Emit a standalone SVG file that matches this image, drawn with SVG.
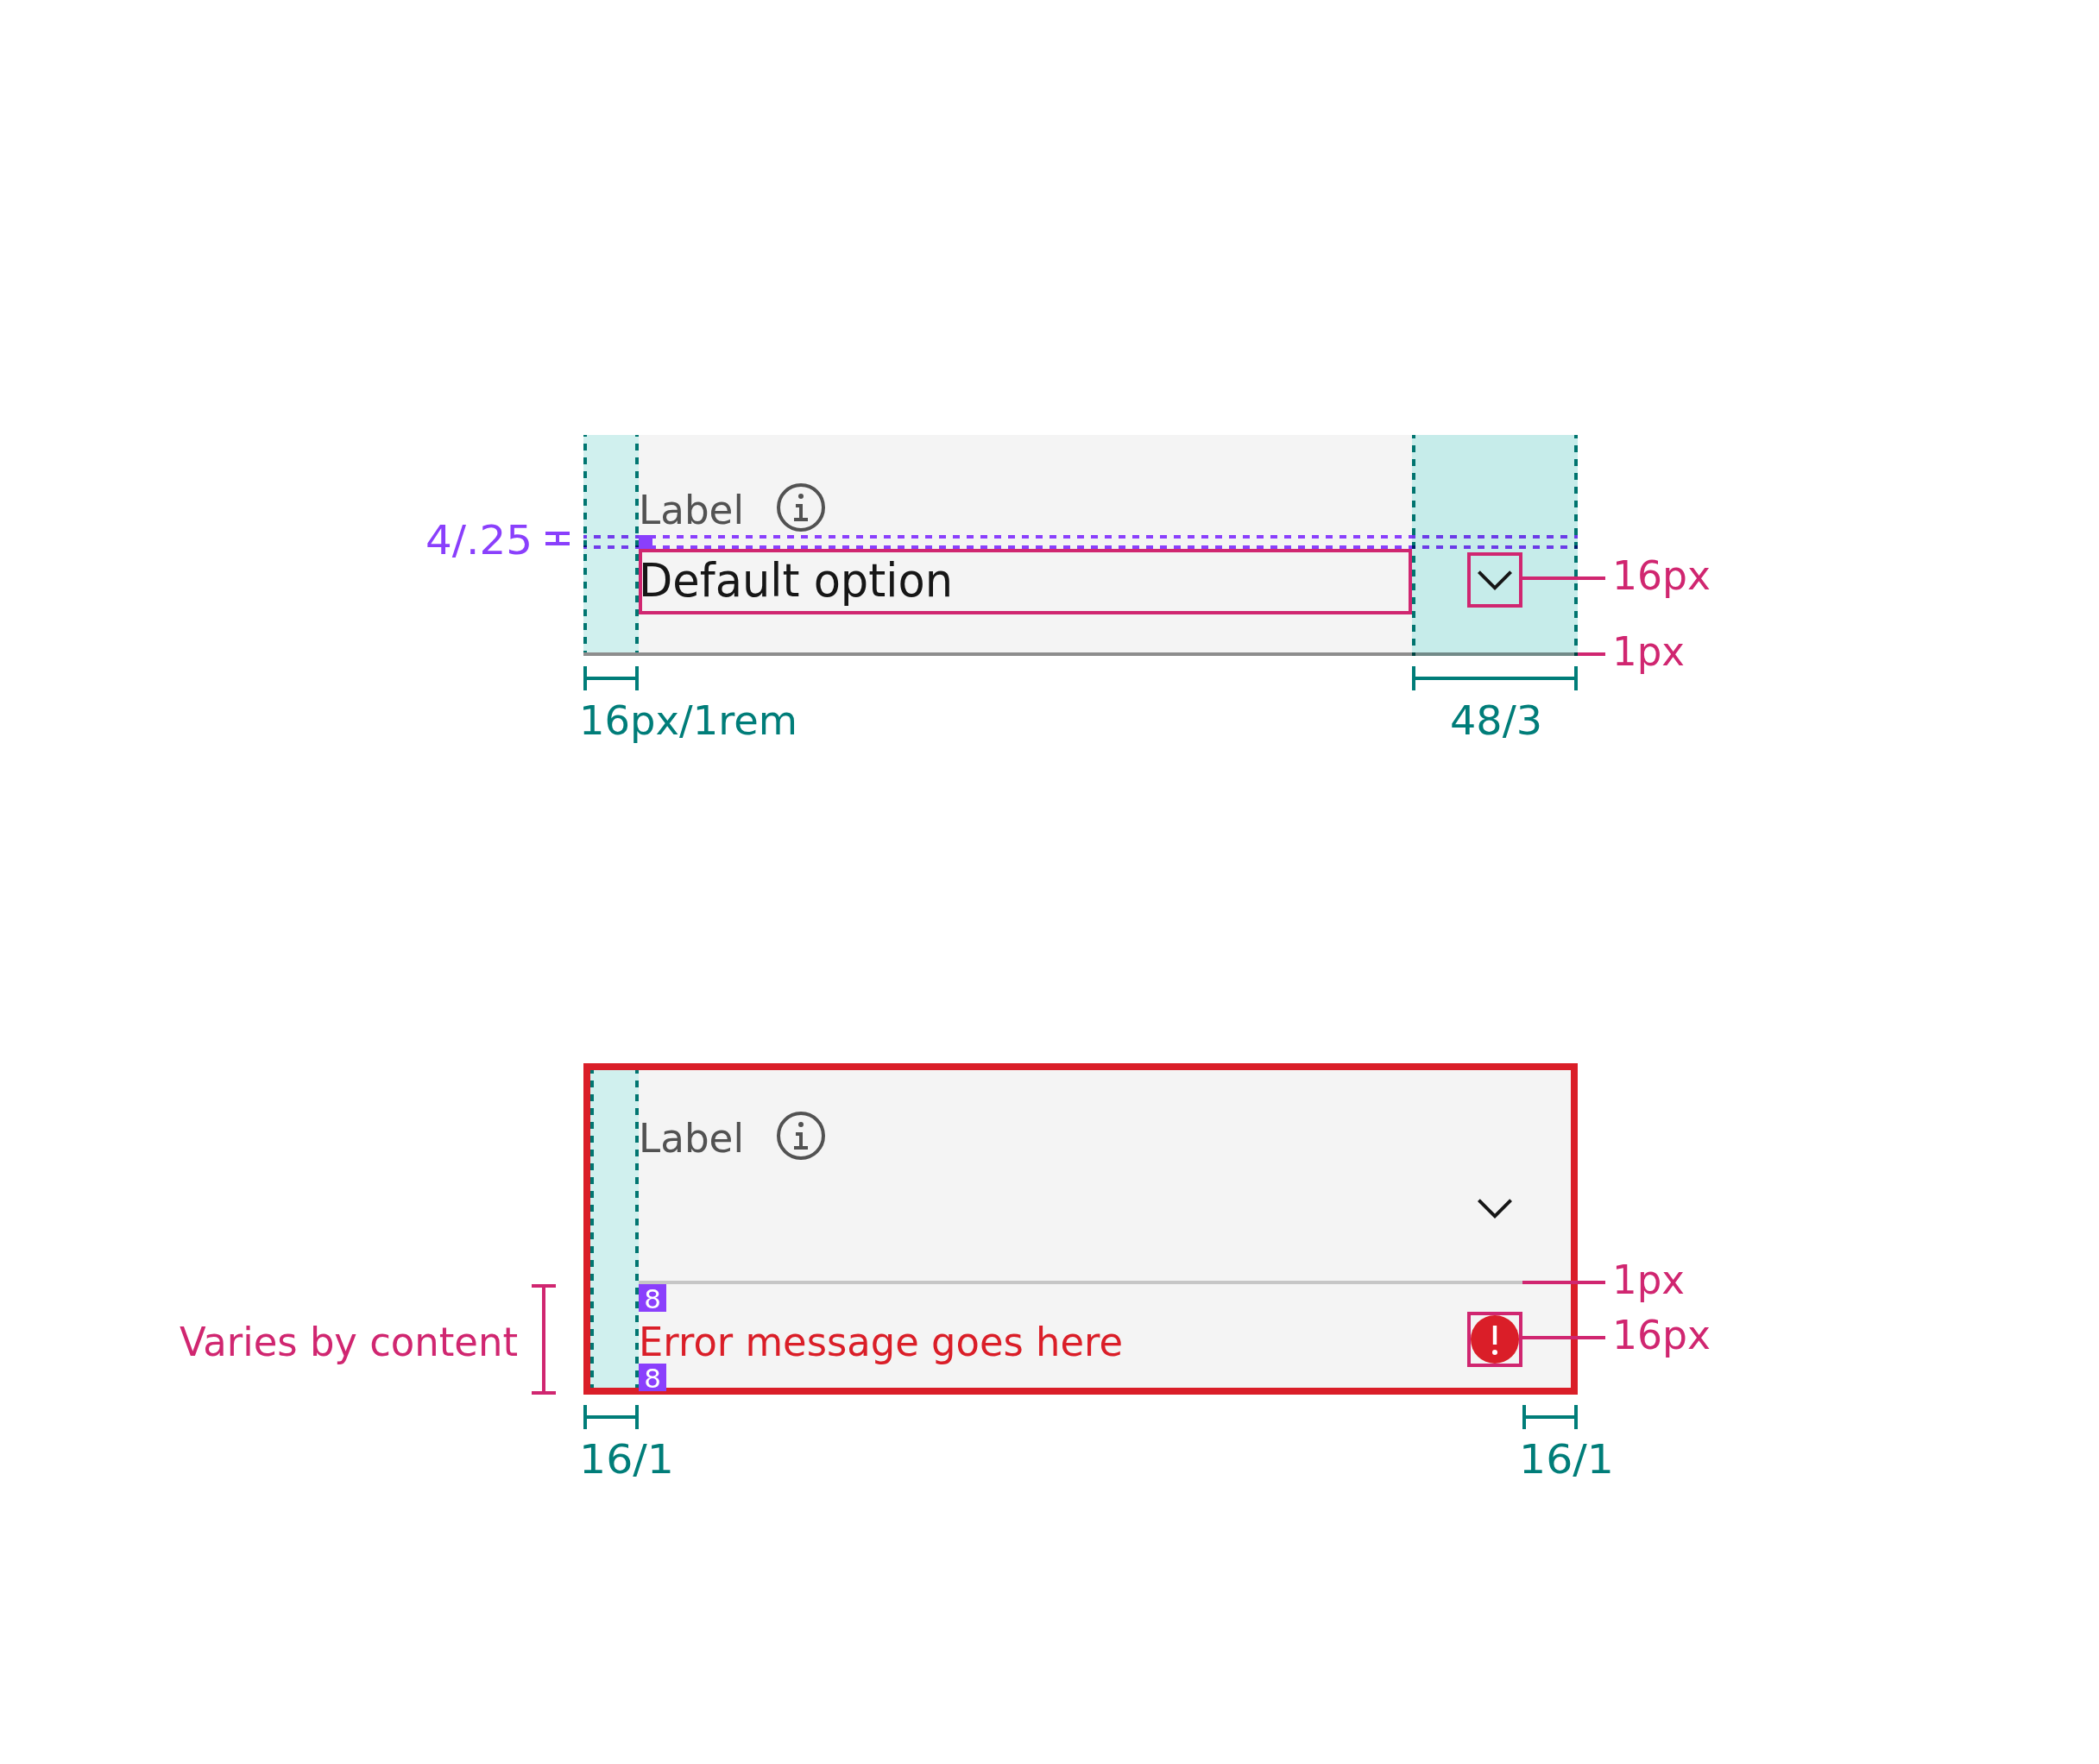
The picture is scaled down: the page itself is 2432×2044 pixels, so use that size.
<svg xmlns="http://www.w3.org/2000/svg" width="2432" height="2044" viewBox="0 0 2432 2044">
<style>
text{font-family:"DejaVu Sans","Noto Sans",sans-serif}
.t48{font-size:47px}
.mag{fill:#d02670}.teal{fill:#007d79}.pur{fill:#8a3ffc}.gry{fill:#525252}
.dv{stroke:#007d79;stroke-width:4;stroke-dasharray:8 8;fill:none;mix-blend-mode:multiply}
.off4{stroke-dashoffset:4}.off6{stroke-dashoffset:6}
.dh{stroke:#8a3ffc;stroke-width:4;stroke-dasharray:8 8;stroke-dashoffset:4;fill:none}
.mult{mix-blend-mode:multiply}
.box{fill:none;stroke:#d02670;stroke-width:4}
.ln{stroke:#d02670;stroke-width:4;fill:none}
.dim{stroke:#007d79;stroke-width:4;fill:none}
.ink{fill:#161616}
</style>
<defs>
<g id="info"><circle cx="32" cy="32" r="26" fill="none" stroke="#525252" stroke-width="4"/><circle cx="32" cy="19" r="3" fill="#525252"/><polygon points="34,44 34,28 26,28 26,32 30,32 30,44 24,44 24,48 40,48 40,44" fill="#525252"/></g>
<polygon id="chev" points="32,44 12,24 14.8,21.2 32,38.4 49.2,21.2 52,24" fill="#161616"/>
</defs>

<g id="default-field">
<rect x="740" y="504" width="896" height="252" fill="#f4f4f4"/>
<rect x="676" y="504" width="64" height="252" fill="#d0f0ee"/>
<rect x="1636" y="504" width="192" height="252" fill="#c6ecea"/>
<rect x="676" y="756" width="960" height="4" fill="#8d8d8d"/>
<rect x="1636" y="756" width="192" height="4" fill="#728a88"/>
<line class="dh" x1="740" y1="622" x2="1636" y2="622"/>
<line class="dh" x1="740" y1="634" x2="1636" y2="634"/>
<g class="mult"><line class="dh" x1="676" y1="622" x2="740" y2="622"/><line class="dh" x1="676" y1="634" x2="740" y2="634"/><line class="dh" x1="1636" y1="622" x2="1828" y2="622"/><line class="dh" x1="1636" y1="634" x2="1828" y2="634"/></g>
<line class="dv off6" x1="678" y1="504" x2="678" y2="756"/>
<line class="dv off6" x1="738" y1="504" x2="738" y2="756"/>
<line class="dv off4" x1="1638" y1="504" x2="1638" y2="760"/>
<line class="dv off4" x1="1826" y1="504" x2="1826" y2="760"/>
<rect x="740" y="620" width="16" height="16" fill="#8a3ffc"/>
<rect class="box" x="742" y="638" width="892" height="72"/>
<text class="gry t48" x="740" y="607" textLength="122" lengthAdjust="spacingAndGlyphs">Label</text>
<use href="#info" x="896" y="556"/>
<text class="ink" x="740" y="691" font-size="54" textLength="364" lengthAdjust="spacingAndGlyphs">Default option</text>
<use href="#chev" x="1700" y="640"/>
<rect class="box" x="1702" y="642" width="60" height="60"/>
</g>

<g id="error-field">
<rect x="684" y="1240" width="1136" height="368" fill="#f4f4f4"/>
<rect x="684" y="1240" width="56" height="368" fill="#d0f0ee"/>
<rect x="740" y="1484" width="1024" height="4" fill="#c6c6c6"/>
<line class="dv off4" x1="686" y1="1240" x2="686" y2="1608"/>
<line class="dv off4" x1="738" y1="1240" x2="738" y2="1608"/>
<rect x="680" y="1236" width="1144" height="376" fill="none" stroke="#da1e28" stroke-width="8"/>
<text class="gry t48" x="740" y="1335" textLength="122" lengthAdjust="spacingAndGlyphs">Label</text>
<use href="#info" x="896" y="1284"/>
<use href="#chev" x="1700" y="1368"/>
<rect x="740" y="1488" width="32" height="32" fill="#8a3ffc"/>
<text x="756" y="1516" font-size="31" text-anchor="middle" fill="#fff">8</text>
<rect x="740" y="1580" width="32" height="32" fill="#8a3ffc"/>
<text x="756" y="1608" font-size="31" text-anchor="middle" fill="#fff">8</text>
<text x="740" y="1571" font-size="47" fill="#da1e28" textLength="561" lengthAdjust="spacingAndGlyphs">Error message goes here</text>
<g id="error-icon"><circle cx="1732" cy="1552" r="28" fill="#da1e28"/><rect x="1729.8" y="1536" width="4.4" height="22" fill="#fff"/><circle cx="1732" cy="1567" r="3" fill="#fff"/></g>
<rect class="box" x="1702" y="1522" width="60" height="60"/>
</g>

<g id="connectors">
<path class="ln" d="M1764 670H1860M1828 758H1860M1764 1486H1860M1764 1550H1860"/>
<path class="dim" d="M678 772V800M738 772V800M678 786H738M1638 772V800M1826 772V800M1638 786H1826"/>
<path class="dim" d="M678 1628V1656M738 1628V1656M678 1642H738M1766 1628V1656M1826 1628V1656M1766 1642H1826"/>
<path d="M632 618H660M632 630H660M646 620V628" stroke="#8a3ffc" stroke-width="4" fill="none"/>
<path class="ln" d="M616 1490H644M616 1614H644M630 1490V1614"/>
</g>

<g id="labels">
<text class="teal t48" x="671" y="851" textLength="253" lengthAdjust="spacingAndGlyphs">16px/1rem</text>
<text class="teal t48" x="1680" y="851" textLength="107" lengthAdjust="spacingAndGlyphs">48/3</text>
<text class="pur t48" x="493" y="642" textLength="124" lengthAdjust="spacingAndGlyphs">4/.25</text>
<text class="mag t48" x="1868" y="683" textLength="114" lengthAdjust="spacingAndGlyphs">16px</text>
<text class="mag t48" x="1868" y="771" textLength="84" lengthAdjust="spacingAndGlyphs">1px</text>
<text class="mag t48" x="1868" y="1499" textLength="84" lengthAdjust="spacingAndGlyphs">1px</text>
<text class="mag t48" x="1868" y="1563" textLength="114" lengthAdjust="spacingAndGlyphs">16px</text>
<text class="mag t48" x="208" y="1571" textLength="392" lengthAdjust="spacingAndGlyphs">Varies by content</text>
<text class="teal t48" x="671" y="1707" textLength="110" lengthAdjust="spacingAndGlyphs">16/1</text>
<text class="teal t48" x="1760" y="1707" textLength="110" lengthAdjust="spacingAndGlyphs">16/1</text>
</g>
</svg>
